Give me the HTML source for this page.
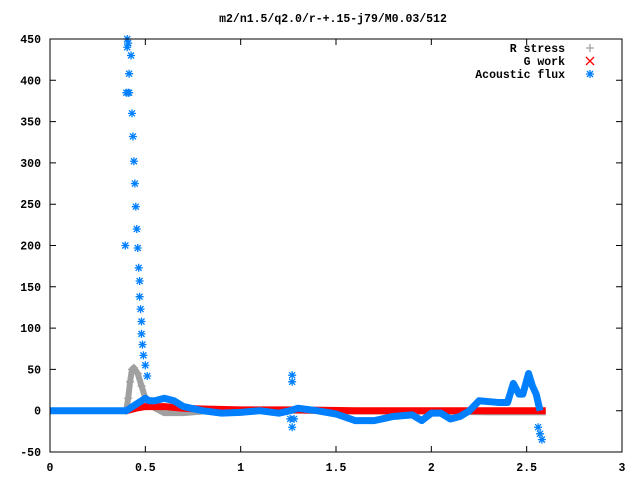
<!DOCTYPE html>
<html><head><meta charset="utf-8"><style>
body{margin:0;background:#fff}
svg text{font-family:"Liberation Mono",monospace;font-size:11.5px;font-weight:bold;fill:#000}
</style></head><body>
<svg id="chart" width="640" height="480" viewBox="0 0 640 480" xmlns="http://www.w3.org/2000/svg">
<text x="333" y="22" text-anchor="middle">m2/n1.5/q2.0/r-+.15-j79/M0.03/512</text>
<g id="axes"></g>
<g id="series"></g>
<rect x="50" y="39" width="572" height="413" fill="none" stroke="#000" stroke-width="1"/>
<g id="legend">
<text x="565" y="52" text-anchor="end">R stress</text>
<text x="565" y="65" text-anchor="end">G work</text>
<text x="565" y="78" text-anchor="end">Acoustic flux</text>
</g>
</svg>
<script>
const xTicks=[0,0.5,1,1.5,2,2.5,3];
const xTickLabels=["0","0.5","1","1.5","2","2.5","3"];
const yTicks=[-50,0,50,100,150,200,250,300,350,400,450];
const yTickLabels=["-50","0","50","100","150","200","250","300","350","400","450"];
// dense curves (x, y)
const rStressX=[0,0.4,0.41,0.42,0.43,0.44,0.46,0.48,0.5,0.55,0.6,0.7,0.8,1.0,1.3,1.6,2.0,2.3,2.6];
const rStressY=[0,0,15,35,50,52,45,30,15,3,-3,-3,-1,0,0,-1,-1,-2,-2];
const gWorkX=[0.4,0.45,0.5,0.6,0.7,0.8,1.0,1.3,1.6,2.0,2.3,2.6];
const gWorkY=[0,3,5,5,3,2,1,1,0,0,0,0];
const fluxX=[0,0.4,0.5,0.52,0.55,0.6,0.65,0.7,0.8,0.9,1.0,1.1,1.2,1.26,1.3,1.4,1.5,1.6,1.7,1.8,1.9,1.95,2.0,2.05,2.1,2.15,2.2,2.25,2.35,2.4,2.43,2.46,2.48,2.51,2.53,2.55,2.57];
const fluxY=[0,0,15,12,12,15,12,5,0,-3,-2,0,-3,0,3,0,-4,-12,-12,-7,-5,-12,-3,-3,-10,-7,0,12,10,10,33,20,20,45,30,20,0];
// sparse spike markers
const spikeX=[0.395,0.405,0.41,0.405,0.4,0.415,0.425,0.415,0.41,0.43,0.435,0.44,0.445,0.45,0.455,0.46,0.465,0.47,0.47,0.475,0.48,0.48,0.485,0.49,0.5,0.51,1.27,1.27,1.27,1.28,1.26,2.56,2.57,2.58];
const spikeY=[200,450,445,440,385,385,430,408,385,360,332,302,275,247,220,197,173,157,138,123,108,93,80,67,55,42,43,35,-20,-10,-10,-20,-28,-35];

const X=v=>50+v*572/3, Y=v=>410.7-v*413/500;
const ns="http://www.w3.org/2000/svg";
const ax=document.getElementById('axes'), sr=document.getElementById('series');
function mk(t,a,p){const e=document.createElementNS(ns,t);for(const k in a)e.setAttribute(k,a[k]);p.appendChild(e);return e;}
xTicks.forEach((v,i)=>{
 const l=mk('path',{d:`M${X(v)},452v-6M${X(v)},39v6`,stroke:'#000'},ax);
 
 
 const t=mk('text',{x:X(v),y:471,'text-anchor':'middle'},ax);t.textContent=xTickLabels[i];
 
 
});
yTicks.forEach((v,i)=>{
 const l=mk('path',{d:`M50,${Y(v)}h6M622,${Y(v)}h-6`,stroke:'#000'},ax);
 
 
 const t=mk('text',{x:41,y:Y(v)+4,'text-anchor':'end'},ax);t.textContent=yTickLabels[i];
 
 
});
function band(xs,ys,color,w,name){
 const p=mk('polyline',{points:xs.map((x,i)=>X(x)+','+Y(ys[i])).join(' '),fill:'none',stroke:color,'stroke-width':w,'stroke-linejoin':'round'},sr);
 
 
}
function star(x,y,c,p){mk('path',{d:`M${x-4},${y}h8M${x},${y-4}v8M${x-3},${y-3}l6,6M${x-3},${y+3}l6,-6`,stroke:c,'stroke-width':1.3},p);}
function plus(x,y,c,p){mk('path',{d:`M${x-4},${y}h8M${x},${y-4}v8`,stroke:c,'stroke-width':1.3},p);}
function cross(x,y,c,p){mk('path',{d:`M${x-4},${y-4}l8,8M${x-4},${y+4}l8,-8`,stroke:c,'stroke-width':1.3},p);}
band(rStressX,rStressY,'#a0a0a0',6,'r-stress-curve');
rStressX.forEach((x,i)=>{if(x>=0.4&&x<=0.5)plus(X(x),Y(rStressY[i]),'#a0a0a0',sr);});
band(gWorkX,gWorkY,'#ff0000',7,'g-work-curve');
band(fluxX,fluxY,'#0080ff',7,'acoustic-flux-curve');
const sg=mk('g',{},sr);


spikeX.forEach((x,i)=>star(X(x),Y(spikeY[i]),'#0080ff',sg));
const lg=document.getElementById('legend');
plus(590,48,'#a0a0a0',lg);cross(590,61,'#ff0000',lg);star(590,74,'#0080ff',lg);
</script>
</body></html>
